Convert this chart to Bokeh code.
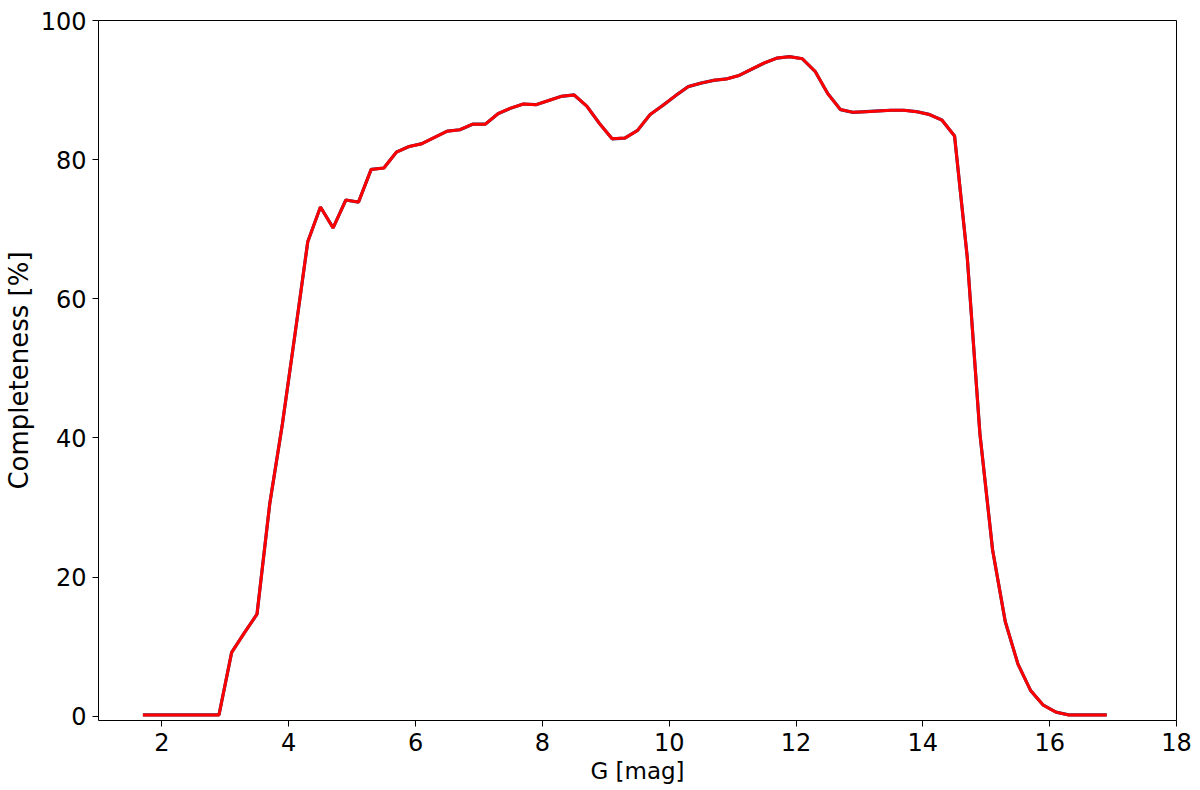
from bokeh.plotting import figure
from bokeh.embed import file_html
from bokeh.resources import INLINE
from bokeh.models import Range1d, FixedTicker

g_mag = [1.7, 1.9, 2.1, 2.3, 2.5, 2.7, 2.9, 3.1, 3.3, 3.5, 3.7, 3.9, 4.1, 4.3, 4.5,
         4.7, 4.9, 5.1, 5.3, 5.5, 5.7, 5.9, 6.1, 6.3, 6.5, 6.7, 6.9, 7.1, 7.3, 7.5,
         7.7, 7.9, 8.1, 8.3, 8.5, 8.7, 8.9, 9.1, 9.3, 9.5, 9.7, 9.9, 10.1, 10.3, 10.5,
         10.7, 10.9, 11.1, 11.3, 11.5, 11.7, 11.9, 12.1, 12.3, 12.5, 12.7, 12.9, 13.1,
         13.3, 13.5, 13.7, 13.9, 14.1, 14.3, 14.5, 14.7, 14.9, 15.1, 15.3, 15.5, 15.7,
         15.9, 16.1, 16.3, 16.5, 16.7, 16.9]
completeness = [0.2, 0.2, 0.2, 0.2, 0.2, 0.2, 0.2, 9.2, 12.0, 14.7, 30.5, 42.0, 55.0, 68.2, 73.2,
                70.2, 74.2, 73.9, 78.6, 78.8, 81.1, 81.9, 82.3, 83.2, 84.1, 84.3, 85.1, 85.1, 86.6, 87.4,
                88.0, 87.9, 88.5, 89.1, 89.3, 87.7, 85.2, 83.0, 83.1, 84.2, 86.5, 87.8, 89.2, 90.5, 91.0,
                91.4, 91.6, 92.1, 93.0, 93.9, 94.6, 94.8, 94.5, 92.7, 89.5, 87.2, 86.8, 86.9,
                87.0, 87.1, 87.1, 86.9, 86.5, 85.7, 83.4, 66.0, 40.6, 23.9, 13.6, 7.5, 3.7,
                1.6, 0.6, 0.2, 0.2, 0.2, 0.2]
x_ticks = [2, 4, 6, 8, 10, 12, 14, 16, 18]
y_ticks = [0, 20, 40, 60, 80, 100]

FONT = "DejaVu Sans"

p = figure(frame_width=1078, frame_height=700, output_backend="svg", toolbar_location=None,
           x_range=Range1d(1, 18), y_range=Range1d(-0.6, 100),
           min_border_left=89, min_border_right=17, min_border_top=20, min_border_bottom=50)
p.outline_line_color = "black"
p.outline_line_width = 1
p.xgrid.visible = False
p.ygrid.visible = False

p.line(g_mag, completeness, line_color="#1f3a80", line_width=3.2)
p.line(g_mag, completeness, line_color="red", line_width=3)

for ax in (p.xaxis, p.yaxis):
    ax.major_label_text_font = FONT
    ax.major_label_text_font_size = "24px"
    ax.major_label_text_color = "black"
    ax.axis_label_text_font = FONT
    ax.axis_label_text_font_style = "normal"
    ax.axis_label_text_color = "black"
    ax.minor_tick_line_color = None
    ax.major_tick_out = 6
    ax.major_tick_in = 0
    ax.axis_line_color = None
    ax.major_tick_line_color = "black"

p.xaxis.ticker = FixedTicker(ticks=x_ticks)
p.yaxis.ticker = FixedTicker(ticks=y_ticks)
p.xaxis.axis_label = "G [mag]"
p.yaxis.axis_label = "Completeness [%]"
p.xaxis.axis_label_text_font_size = "23px"
p.yaxis.axis_label_text_font_size = "26px"
p.xaxis.major_label_standoff = 6
p.yaxis.major_label_standoff = 6
p.xaxis.axis_label_standoff = 4
p.yaxis.axis_label_standoff = 4

open("out.html", "w").write(file_html(p, INLINE))
